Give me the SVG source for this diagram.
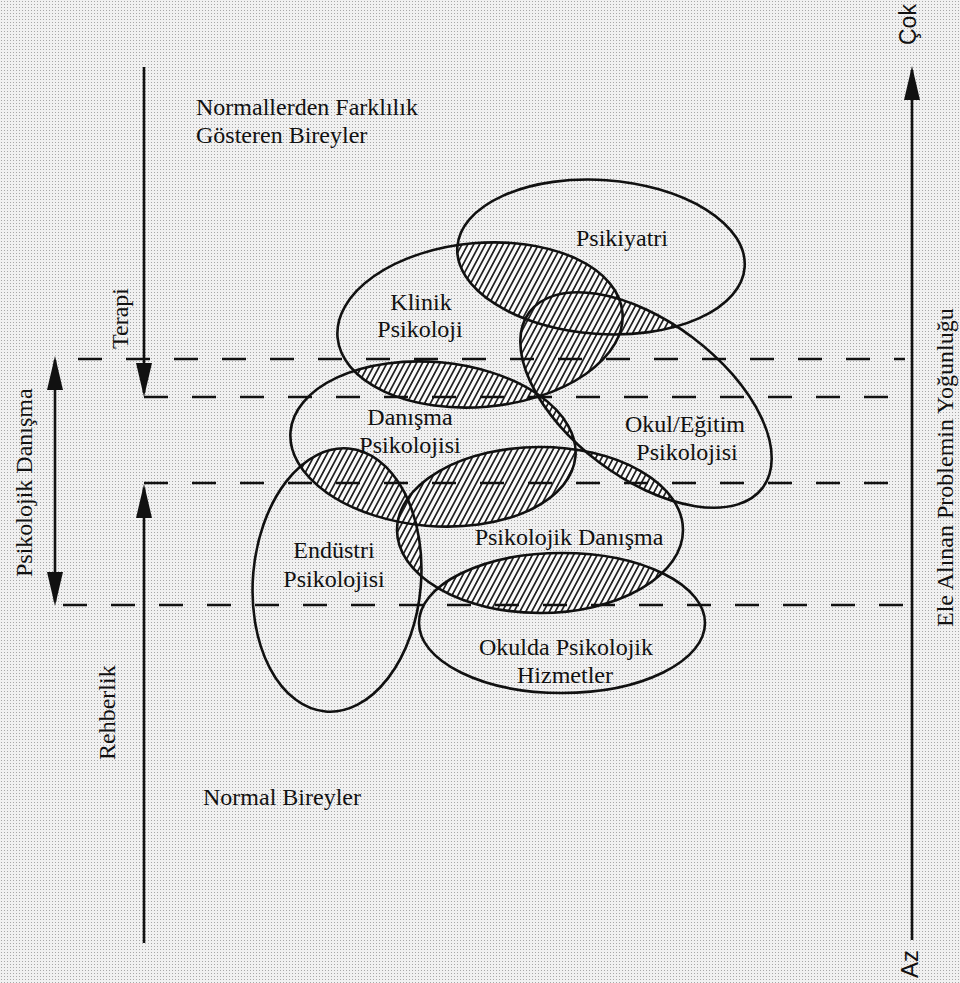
<svg xmlns="http://www.w3.org/2000/svg" width="960" height="983" viewBox="0 0 960 983">
<defs>
<style>
.ser{font-family:"Liberation Serif","Times New Roman",serif;font-size:24px;fill:#111}
.sans{font-family:"Liberation Sans",Arial,sans-serif;font-size:23px;fill:#111}
.mid{text-anchor:middle}
.ell{fill:none;stroke:#111;stroke-width:2.6}
.dash{stroke:#111;stroke-width:2.6;stroke-dasharray:24 24;fill:none}
.ln{stroke:#111;stroke-width:2.6;fill:none}
</style>
<pattern id="bg" width="3" height="3" patternUnits="userSpaceOnUse">
<rect width="3" height="3" fill="#f1f1f1"/>
<rect x="1" y="1" width="1" height="1" fill="#a8a8a8"/>
</pattern>
<pattern id="hatch" width="5.2" height="10" patternUnits="userSpaceOnUse" patternTransform="rotate(28)">
<rect width="5.2" height="10" fill="#fafafa"/>
<line x1="2.6" y1="0" x2="2.6" y2="10" stroke="#111" stroke-width="1.6"/>
</pattern>
<marker id="ah" markerUnits="userSpaceOnUse" markerWidth="34" markerHeight="16" refX="30" refY="8" orient="auto-start-reverse">
<path d="M0,0 L34,8 L0,16 Z" fill="#111"/>
</marker>
<clipPath id="cP"><ellipse cx="601" cy="257" rx="144" ry="77" transform="rotate(4 601 257)"/></clipPath>
<clipPath id="cK"><ellipse cx="480" cy="325" rx="143" ry="82" transform="rotate(-5 480 325)"/></clipPath>
<clipPath id="cO"><ellipse cx="646" cy="400" rx="146" ry="78" transform="rotate(37 646 400)"/></clipPath>
<clipPath id="cD"><ellipse cx="433" cy="444" rx="143" ry="82" transform="rotate(5 433 444)"/></clipPath>
<clipPath id="cE"><ellipse cx="337" cy="580" rx="84" ry="132" transform="rotate(5 337 580)"/></clipPath>
<clipPath id="cPD"><ellipse cx="540" cy="530" rx="143" ry="83"/></clipPath>
<clipPath id="cOH"><ellipse cx="562" cy="623" rx="143" ry="70"/></clipPath>
</defs>
<rect width="960" height="983" fill="url(#bg)"/>

<g id="overlaps">
<g clip-path="url(#cP)"><rect width="960" height="983" fill="url(#hatch)" clip-path="url(#cK)"/></g>
<g clip-path="url(#cP)"><rect width="960" height="983" fill="url(#hatch)" clip-path="url(#cO)"/></g>
<g clip-path="url(#cK)"><rect width="960" height="983" fill="url(#hatch)" clip-path="url(#cO)"/></g>
<g clip-path="url(#cK)"><rect width="960" height="983" fill="url(#hatch)" clip-path="url(#cD)"/></g>
<g clip-path="url(#cD)"><rect width="960" height="983" fill="url(#hatch)" clip-path="url(#cO)"/></g>
<g clip-path="url(#cD)"><rect width="960" height="983" fill="url(#hatch)" clip-path="url(#cE)"/></g>
<g clip-path="url(#cD)"><rect width="960" height="983" fill="url(#hatch)" clip-path="url(#cPD)"/></g>
<g clip-path="url(#cE)"><rect width="960" height="983" fill="url(#hatch)" clip-path="url(#cPD)"/></g>
<g clip-path="url(#cO)"><rect width="960" height="983" fill="url(#hatch)" clip-path="url(#cPD)"/></g>
<g clip-path="url(#cPD)"><rect width="960" height="983" fill="url(#hatch)" clip-path="url(#cOH)"/></g>
</g>

<g id="connectors">
<line class="dash" x1="78" y1="359" x2="905" y2="359"/>
<line class="dash" x1="144" y1="397" x2="905" y2="397"/>
<line class="dash" x1="144" y1="483" x2="905" y2="483"/>
<line class="dash" x1="63" y1="605" x2="905" y2="605"/>
<line class="ln" x1="144" y1="67" x2="144" y2="393" marker-end="url(#ah)"/>
<line class="ln" x1="144" y1="943" x2="144" y2="488" marker-end="url(#ah)"/>
<line class="ln" x1="55" y1="360" x2="55" y2="602" marker-start="url(#ah)" marker-end="url(#ah)"/>
<line class="ln" x1="912" y1="940" x2="912" y2="70" marker-end="url(#ah)"/>
</g>

<g id="psikiyatri">
<ellipse class="ell" cx="601" cy="257" rx="144" ry="77" transform="rotate(4 601 257)"/>
<text class="ser mid" x="622" y="246">Psikiyatri</text>
</g>
<g id="klinik">
<ellipse class="ell" cx="480" cy="325" rx="143" ry="82" transform="rotate(-5 480 325)"/>
<text class="ser mid" x="421" y="310">Klinik</text>
<text class="ser mid" x="420" y="337">Psikoloji</text>
</g>
<g id="okul">
<ellipse class="ell" cx="646" cy="400" rx="146" ry="78" transform="rotate(37 646 400)"/>
<text class="ser mid" x="685" y="432">Okul/Eğitim</text>
<text class="ser mid" x="687" y="460">Psikolojisi</text>
</g>
<g id="danisma">
<ellipse class="ell" cx="433" cy="444" rx="143" ry="82" transform="rotate(5 433 444)"/>
<text class="ser mid" x="410" y="425">Danışma</text>
<text class="ser mid" x="410" y="453">Psikolojisi</text>
</g>
<g id="endustri">
<ellipse class="ell" cx="337" cy="580" rx="84" ry="132" transform="rotate(5 337 580)"/>
<text class="ser mid" x="334" y="558">Endüstri</text>
<text class="ser mid" x="334" y="587">Psikolojisi</text>
</g>
<g id="psikolojik-danisma">
<ellipse class="ell" cx="540" cy="530" rx="143" ry="83"/>
<text class="ser mid" x="569" y="545">Psikolojik Danışma</text>
</g>
<g id="okulda">
<ellipse class="ell" cx="562" cy="623" rx="143" ry="70"/>
<text class="ser mid" x="566" y="655">Okulda Psikolojik</text>
<text class="ser mid" x="565" y="683">Hizmetler</text>
</g>

<g id="labels">
<text class="ser" x="196" y="115">Normallerden Farklılık</text>
<text class="ser" x="196" y="143">Gösteren Bireyler</text>
<text class="ser" x="203" y="805">Normal Bireyler</text>
<text class="ser" transform="translate(128 349) rotate(-90)">Terapi</text>
<text class="ser" transform="translate(115 760) rotate(-90)">Rehberlik</text>
<text class="ser" transform="translate(32 577) rotate(-90)">Psikolojik Danışma</text>
<text class="ser" transform="translate(953 627) rotate(-90)">Ele Alınan Problemin Yoğunluğu</text>
<text class="sans" transform="translate(916 45) rotate(-90)">Çok</text>
<text class="sans" style="font-size:24px" transform="translate(918 978) rotate(-90)">Az</text>
</g>
</svg>
